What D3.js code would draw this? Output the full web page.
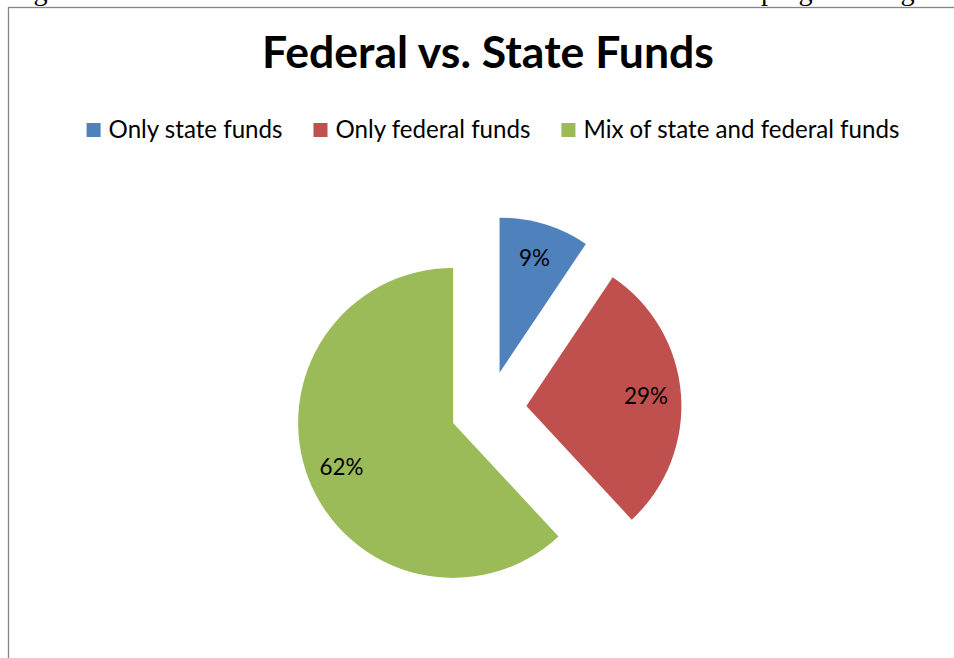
<!DOCTYPE html>
<html>
<head>
<meta charset="utf-8">
<script src="https://cdn.jsdelivr.net/npm/d3@7"></script>
<style>
  body { margin: 0; background: #fff; }
  svg { display: block; }
</style>
</head>
<body>
<div class="chart"></div>
<script>
// data
const categories = ["Only state funds", "Only federal funds", "Mix of state and federal funds"];
const values = [9.4, 28.7, 61.9];
const colors = ["#4F81BD", "#C0504D", "#9BBB59"];
const chartTitle = "Federal vs. State Funds";
const caption = "Figure 6: States\u2019 use of federal vs. state funds for afterschool food programming";

const width = 954, height = 658;
const font = "Lato, 'Open Sans', sans-serif";

let svg = d3.select('.chart').append('svg').attr('width', width).attr('height', height);

// fit a text element's font size so it hits a target width
function fitText(sel, target, base){
    sel.style('font-size', base + 'px');
    let w = sel.node().getComputedTextLength();
    let size = base * target / w;
    sel.style('font-size', size + 'px');
    return size;
}

// caption of the page above the chart, mostly off the top edge
let cap = svg.append('text').text(caption)
    .attr('x', 10).attr('y', 0)
    .style('font-family', "'Liberation Serif', 'Times New Roman', serif")
    .style('fill', '#000');
fitText(cap, 905, 28);

// chart frame (runs past the window on right and bottom)
svg.append('rect').attr('x', 8.5).attr('y', 7.5).attr('width', 1000).attr('height', 1000)
    .style('fill', '#fff').style('stroke', '#868686').style('stroke-width', 1.3);

// title
let title = svg.append('text').text(chartTitle)
    .attr('x', 488).attr('y', 68).attr('text-anchor', 'middle')
    .style('font-family', font).style('font-weight', 'bold').style('fill', '#000');
fitText(title, 452, 38);

// legend
let legend = svg.append('g');
let items = legend.selectAll('g').data(categories).enter().append('g');
items.append('rect').attr('width', 14).attr('height', 14).attr('y', 123)
    .style('fill', (d, i) => colors[i]);
let ltext = items.append('text').text(d => d).attr('y', 138)
    .style('font-family', font).style('fill', '#000');
let lsize = fitText(d3.select(ltext.nodes()[0]), 174, 24);
ltext.style('font-size', lsize + 'px');
let widths = ltext.nodes().map(n => n.getComputedTextLength());
let boxW = 14, pad = 8, gap = 31;
let total = d3.sum(widths) + categories.length * (boxW + pad) + gap * (categories.length - 1);
let xpos = 493 - total / 2;
items.each(function(d, i){
    d3.select(this).select('rect').attr('x', xpos);
    d3.select(this).select('text').attr('x', xpos + boxW + pad);
    xpos += boxW + pad + widths[i] + gap;
});

// exploded pie
let cx = 488.5, cy = 409, r = 155, explode = 38, labelR = 120;
let pie = d3.pie().sort(null).value(d => d);
let arcs = pie(values);
let arc = d3.arc().innerRadius(0).outerRadius(r);
let labelArc = d3.arc().innerRadius(labelR).outerRadius(labelR);
let pct = d3.format('.0%');
let sum = d3.sum(values);

let slices = svg.append('g').attr('transform', 'translate(' + cx + ',' + cy + ')')
    .selectAll('g').data(arcs).enter().append('g')
    .attr('transform', d => {
        let mid = (d.startAngle + d.endAngle) / 2;
        return 'translate(' + (Math.sin(mid) * explode) + ',' + (-Math.cos(mid) * explode) + ')';
    });

slices.append('path').attr('d', arc).style('fill', (d, i) => colors[i]);

let labels = slices.append('text')
    .text(d => pct(d.value / sum))
    .attr('transform', d => 'translate(' + labelArc.centroid(d) + ')')
    .attr('text-anchor', 'middle').attr('dy', '0.35em')
    .style('font-family', font).style('fill', '#000');
let psize = fitText(d3.select(labels.nodes()[1]), 44, 24);
labels.style('font-size', psize + 'px');
</script>
</body>
</html>
